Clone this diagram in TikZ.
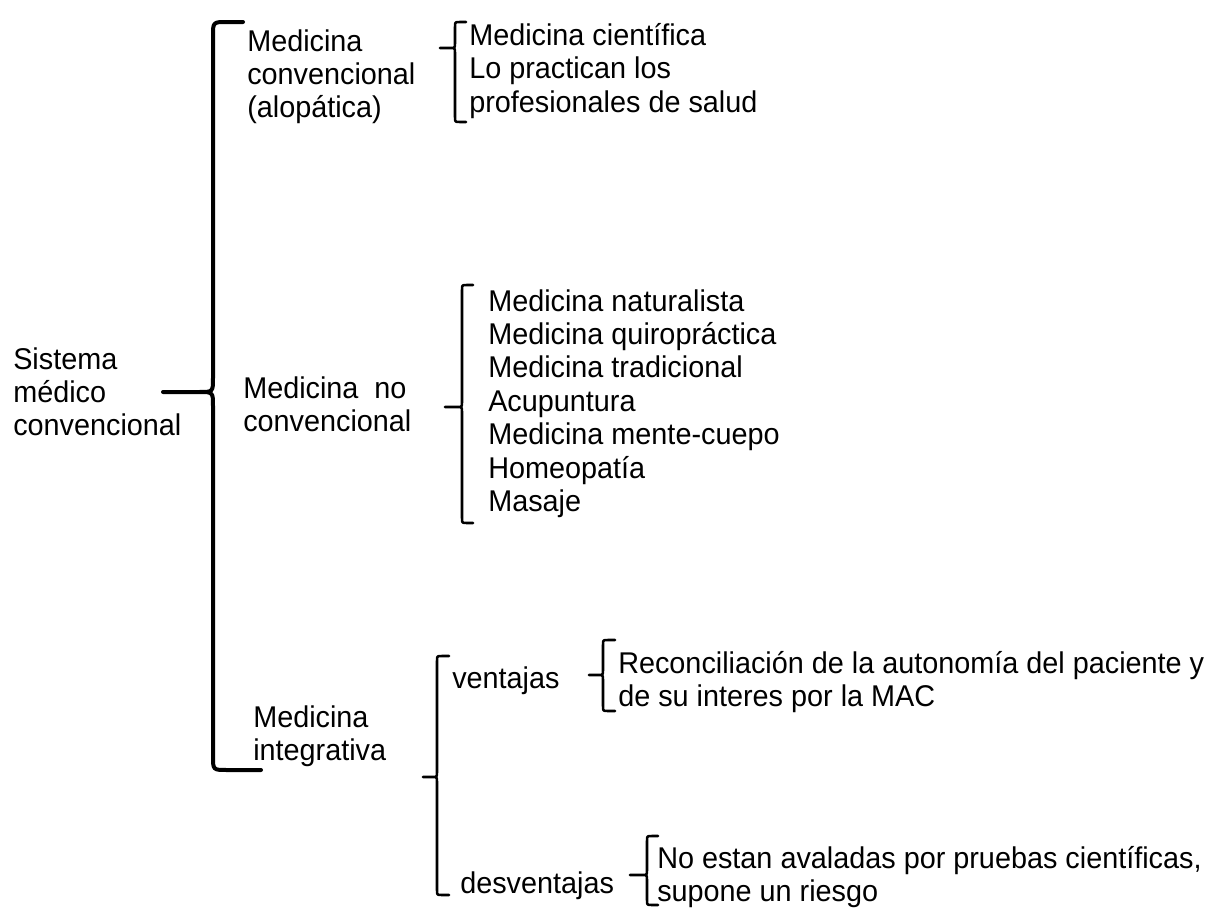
\documentclass[tikz,border=0pt]{standalone}
\usepackage{fontspec}
\setmainfont{Liberation Sans}
\newfontfamily\mainf[FakeStretch=0.96]{Liberation Sans}
% curly brace opening to the right, tip to the left
% #1 X, #2 top, #3 bottom, #4 tip x, #5 tip y, #6 top hook, #7 bottom hook, #8 radius, #9 style
\newcommand{\cbrace}[9]{%
  \draw[#9] ({#1+#6},#2) -- ({#1+#8},#2) .. controls (#1,#2) .. (#1,{#2+#8})
    -- (#1,{#5-#8}) .. controls (#1,#5) .. ({#1-#8},#5) -- (#4,#5)
    -- ({#1-#8},#5) .. controls (#1,#5) .. (#1,{#5+#8})
    -- (#1,{#3-#8}) .. controls (#1,#3) .. ({#1+#8},#3) -- ({#1+#7},#3);}
\begin{document}
\begin{tikzpicture}[x=0.75pt,y=-0.75pt,
  txt/.style={font={\mainf\fontsize{22.5}{25.1}\selectfont}, align=left, inner sep=0pt, anchor=north west},
  bmain/.style={line width=3pt, line join=round, line cap=round},
  bsub/.style={line width=1.9pt, line join=round, line cap=round}]
\useasboundingbox[fill=white] (0,0) rectangle (1222,910);

% texts
\node[txt] (sis) at (13,347) {Sistema\\médico\\convencional};
\node[txt] (mc) at (247,29) {Medicina\\convencional\\(alopática)};
\node[txt] (mcl) at (469,23) {Medicina científica\\Lo practican los\\profesionales de salud};
\node[txt] (mnc) at (243,376) {Medicina\ \ no\\convencional};
\node[txt] (mncl) at (488,289) {Medicina naturalista\\Medicina quiropráctica\\Medicina tradicional\\Acupuntura\\Medicina mente-cuepo\\Homeopatía\\Masaje};
\node[txt] (mi) at (253,705) {Medicina\\integrativa};
\node[txt] (ven) at (452,666) {ventajas};
\node[txt] (des) at (460,871) {desventajas};
\node[txt] (venl) at (618,651) {Reconciliación de la autonomía del paciente y\\de su interes por la MAC};
\node[txt] (desl) at (657,846) {No estan avaladas por pruebas científicas,\\supone un riesgo};

% braces
\cbrace{213}{22}{770}{163}{392}{30}{48}{14}{bmain}
\cbrace{455}{22}{122}{440}{48}{11}{11}{5}{bsub}
\cbrace{462}{285}{523}{445}{407}{11}{11}{5}{bsub}
\cbrace{437}{656}{895}{423}{777}{12}{12}{5}{bsub}
\cbrace{603}{640}{711}{589}{675}{12}{12}{5}{bsub}
\cbrace{647}{836}{905}{630}{875}{11}{11}{5}{bsub}
\end{tikzpicture}
\end{document}
